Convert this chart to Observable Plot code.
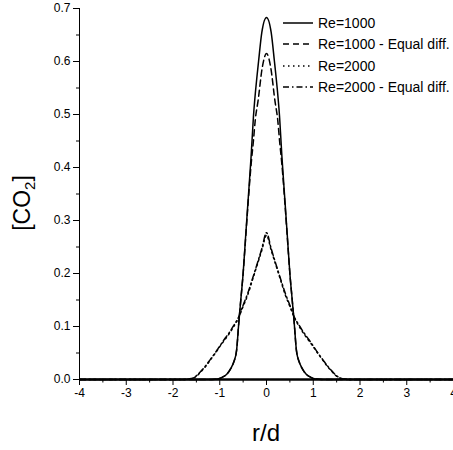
<!DOCTYPE html>
<html>
<head>
<meta charset="utf-8">
<script src="https://cdn.jsdelivr.net/npm/d3@7"></script>
<script src="https://cdn.jsdelivr.net/npm/@observablehq/plot@0.6"></script>
<style>
  html, body { margin: 0; padding: 0; background: white; overflow: hidden; }
  #chart { width: 453px; height: 450px; }
</style>
</head>
<body>
<div id="chart"></div>
<script>
// ---- Data ----
const seriesNames = ["Re=1000", "Re=1000 - Equal diff.", "Re=2000", "Re=2000 - Equal diff."];

const re1000X = [-4, -1.3, -1.05, -0.95, -0.85, -0.75, -0.7, -0.64, -0.59, -0.55, -0.5, -0.45, -0.4, -0.33, -0.28, -0.2, -0.17, -0.1, 0,
                 0.1, 0.17, 0.2, 0.28, 0.33, 0.4, 0.45, 0.5, 0.55, 0.59, 0.64, 0.7, 0.75, 0.85, 0.95, 1.05, 1.3, 4];
const re1000Y = [0, 0, 0.001, 0.004, 0.01, 0.023, 0.033, 0.055, 0.11, 0.15, 0.2, 0.265, 0.33, 0.42, 0.495, 0.575, 0.6, 0.655, 0.683,
                 0.655, 0.6, 0.575, 0.495, 0.42, 0.33, 0.265, 0.2, 0.15, 0.11, 0.055, 0.033, 0.023, 0.01, 0.004, 0.001, 0, 0];

const re1000EqX = [-4, -1.3, -1.05, -0.95, -0.85, -0.75, -0.7, -0.64, -0.59, -0.55, -0.5, -0.45, -0.4, -0.33, -0.28, -0.24, -0.18, -0.09, 0,
                   0.09, 0.18, 0.24, 0.28, 0.33, 0.4, 0.45, 0.5, 0.55, 0.59, 0.64, 0.7, 0.75, 0.85, 0.95, 1.05, 1.3, 4];
const re1000EqY = [0, 0, 0.001, 0.004, 0.01, 0.023, 0.033, 0.055, 0.11, 0.15, 0.2, 0.262, 0.325, 0.405, 0.45, 0.49, 0.526, 0.589, 0.615,
                   0.589, 0.526, 0.49, 0.45, 0.405, 0.325, 0.262, 0.2, 0.15, 0.11, 0.055, 0.033, 0.023, 0.01, 0.004, 0.001, 0, 0];

const re2000X = [-4, -1.8, -1.6, -1.5, -1.4, -1.3, -1.2, -1.1, -1.0, -0.9, -0.8, -0.7, -0.6, -0.5, -0.4, -0.3, -0.2, -0.1, 0,
                 0.1, 0.2, 0.3, 0.4, 0.5, 0.6, 0.7, 0.8, 0.9, 1.0, 1.1, 1.2, 1.3, 1.4, 1.5, 1.6, 1.8, 4];
const re2000Y = [0, 0, 0.002, 0.006, 0.015, 0.025, 0.037, 0.049, 0.062, 0.074, 0.086, 0.1, 0.116, 0.138, 0.16, 0.188, 0.216, 0.244, 0.272,
                 0.244, 0.216, 0.188, 0.16, 0.138, 0.116, 0.1, 0.086, 0.074, 0.062, 0.049, 0.037, 0.025, 0.015, 0.006, 0.002, 0, 0];

const re2000EqX = [-4, -1.8, -1.6, -1.5, -1.4, -1.3, -1.2, -1.1, -1.0, -0.9, -0.8, -0.7, -0.6, -0.5, -0.4, -0.3, -0.2, -0.1, 0,
                   0.1, 0.2, 0.3, 0.4, 0.5, 0.6, 0.7, 0.8, 0.9, 1.0, 1.1, 1.2, 1.3, 1.4, 1.5, 1.6, 1.8, 4];
const re2000EqY = [0, 0, 0.002, 0.007, 0.016, 0.026, 0.038, 0.05, 0.063, 0.076, 0.088, 0.102, 0.117, 0.14, 0.163, 0.19, 0.218, 0.247, 0.277,
                   0.247, 0.218, 0.19, 0.163, 0.14, 0.117, 0.102, 0.088, 0.076, 0.063, 0.05, 0.038, 0.026, 0.016, 0.007, 0.002, 0, 0];

const xTicks = [-4, -3, -2, -1, 0, 1, 2, 3, 4];
const xMinorTicks = [-3.5, -2.5, -1.5, -0.5, 0.5, 1.5, 2.5, 3.5];
const yTicks = [0, 0.1, 0.2, 0.3, 0.4, 0.5, 0.6, 0.7];
const yMinorTicks = [0.05, 0.15, 0.25, 0.35, 0.45, 0.55, 0.65];

// ---- Build tables ----
const toRows = (xs, ys, name) => xs.map((x, i) => ({x, y: ys[i], series: name}));
const solid = toRows(re1000X, re1000Y, seriesNames[0]);
const dashed = toRows(re1000EqX, re1000EqY, seriesNames[1]);
const dotted = toRows(re2000X, re2000Y, seriesNames[2]);
const dashDot = toRows(re2000EqX, re2000EqY, seriesNames[3]);

const styles = [
  {data: solid, dash: null},
  {data: dashed, dash: "6,4"},
  {data: dotted, dash: "1.5,3.5"},
  {data: dashDot, dash: "6,3,1.5,3"}
];

const FONT = "'Liberation Sans', Arial, Helvetica, sans-serif";

const chart = Plot.plot({
  width: 453,
  height: 450,
  marginLeft: 79,
  marginRight: 0,
  marginTop: 8,
  marginBottom: 71,
  style: {fontFamily: FONT, fontSize: "12px", color: "black", background: "white", overflow: "visible"},
  x: {domain: [-4, 4]},
  y: {domain: [0, 0.7]},
  marks: [
    Plot.axisX({ticks: xTicks, tickSize: 6, tickPadding: 3, tickFormat: d => String(d), label: null, stroke: "black", strokeWidth: 1}),
    Plot.axisX({ticks: xMinorTicks, tickSize: 3.5, text: null, label: null, stroke: "black", strokeWidth: 1}),
    Plot.axisY({ticks: yTicks, tickSize: 6, tickPadding: 3, tickFormat: d3.format(".1f"), label: null, stroke: "black", strokeWidth: 1}),
    Plot.axisY({ticks: yMinorTicks, tickSize: 3, text: null, label: null, stroke: "black", strokeWidth: 1}),
    Plot.ruleX([-4], {stroke: "black", strokeWidth: 1}),
    Plot.ruleY([0], {stroke: "black", strokeWidth: 2.5}),
    ...styles.map(s => Plot.line(s.data, {x: "x", y: "y", stroke: "black", strokeWidth: 1.5,
      strokeDasharray: s.dash, curve: "monotone-x"}))
  ]
});

document.getElementById("chart").appendChild(chart);

// ---- Titles and legend ----
const svg = d3.select(chart);

svg.append("text")
  .attr("x", 266).attr("y", 441)
  .attr("text-anchor", "middle")
  .attr("font-family", "'Liberation Sans Narrow', " + FONT)
  .attr("font-size", 24)
  .attr("fill", "black")
  .text("r/d");

const yTitle = svg.append("text")
  .attr("transform", "translate(30,203) rotate(-90)")
  .attr("text-anchor", "middle")
  .attr("font-family", FONT)
  .attr("font-size", 23)
  .attr("fill", "black");
yTitle.append("tspan").text("[CO");
yTitle.append("tspan").attr("font-size", 15).attr("dy", 5).text("2");
yTitle.append("tspan").attr("dy", -5).text("]");

const legendRows = [23, 44, 66, 87];
const legend = svg.append("g").attr("text-anchor", "start");
styles.forEach((s, i) => {
  const y = legendRows[i];
  legend.append("line")
    .attr("x1", 283).attr("x2", 313).attr("y1", y).attr("y2", y)
    .attr("stroke", "black").attr("stroke-width", 1.5)
    .attr("stroke-dasharray", s.dash);
  legend.append("text")
    .attr("x", 318).attr("y", y)
    .attr("dy", "0.35em")
    .attr("text-anchor", "start")
    .attr("font-family", FONT)
    .attr("font-size", 14)
    .attr("fill", "black")
    .text(seriesNames[i]);
});
</script>
</body>
</html>
